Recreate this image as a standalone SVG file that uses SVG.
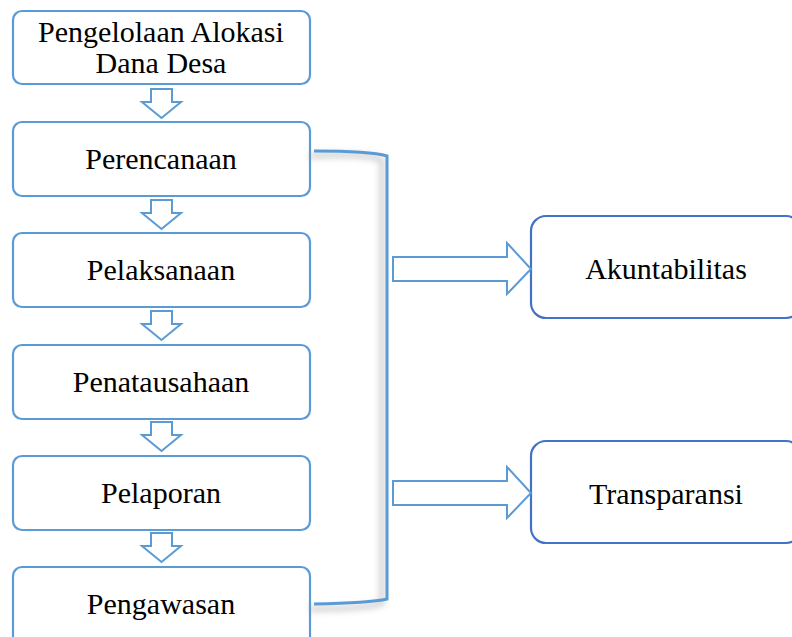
<svg xmlns="http://www.w3.org/2000/svg" width="792" height="637" viewBox="0 0 792 637">
<defs>
<style>
.box{fill:#fff;stroke:#5b9bd5;stroke-width:2.2}
.rbox{fill:#fff;stroke:#4472c4;stroke-width:2.2}
.arr{fill:#fff;stroke:#5b9bd5;stroke-width:2}
.t{font-family:"Liberation Serif","Times New Roman",serif;font-size:30px;fill:#000;text-anchor:middle}
.br{fill:none;stroke:#5b9bd5;stroke-width:3}
</style>
<filter id="sh" x="-20%" y="-20%" width="140%" height="140%">
<feGaussianBlur stdDeviation="3"/>
</filter>
</defs>
<g id="n1"><rect class="box" x="13" y="11" width="297" height="73" rx="9"/><text class="t" x="161" y="42">Pengelolaan Alokasi</text><text class="t" x="161" y="73">Dana Desa</text></g>
<g id="n2"><rect class="box" x="13" y="122" width="297" height="74" rx="9"/><text class="t" x="161" y="169">Perencanaan</text></g>
<g id="n3"><rect class="box" x="13" y="233" width="297" height="74" rx="9"/><text class="t" x="161" y="280">Pelaksanaan</text></g>
<g id="n4"><rect class="box" x="13" y="345" width="297" height="74" rx="9"/><text class="t" x="161" y="392">Penatausahaan</text></g>
<g id="n5"><rect class="box" x="13" y="456" width="297" height="74" rx="9"/><text class="t" x="161" y="503">Pelaporan</text></g>
<g id="n6"><rect class="box" x="13" y="567" width="297" height="80" rx="9"/><text class="t" x="161" y="614">Pengawasan</text></g>
<g id="n7"><rect class="rbox" x="531" y="216" width="270" height="102" rx="15"/><text class="t" x="666" y="279">Akuntabilitas</text></g>
<g id="n8"><rect class="rbox" x="531" y="441" width="270" height="102" rx="15"/><text class="t" x="666" y="504">Transparansi</text></g>
<g id="connectors">
<path id="d1" class="arr" d="M151,89 H172 V102 H181 L161.5,118 L142,102 H151 Z"/>
<path id="d2" class="arr" d="M151,200 H172 V213 H181 L161.5,229 L142,213 H151 Z"/>
<path id="d3" class="arr" d="M151,311 H172 V324 H181 L161.5,340 L142,324 H151 Z"/>
<path id="d4" class="arr" d="M151,422 H172 V435 H181 L161.5,451 L142,435 H151 Z"/>
<path id="d5" class="arr" d="M151,533 H172 V546 H181 L161.5,562 L142,546 H151 Z"/>
<path d="M314,153 Q370,150 386,157 V600 Q370,606 314,606" fill="none" stroke="#999" stroke-width="5" opacity="0.5" filter="url(#sh)" transform="translate(-4,3)"/>
<path class="br" d="M314,151 Q370,151 387,156 V599 Q370,603 314,604"/>
<path id="r1" class="arr" d="M393,257 H507 V243 L531,269 L507,294 V281 H393 Z"/>
<path id="r2" class="arr" d="M393,481 H507 V467 L531,493 L507,518 V505 H393 Z"/>
</g>
</svg>
